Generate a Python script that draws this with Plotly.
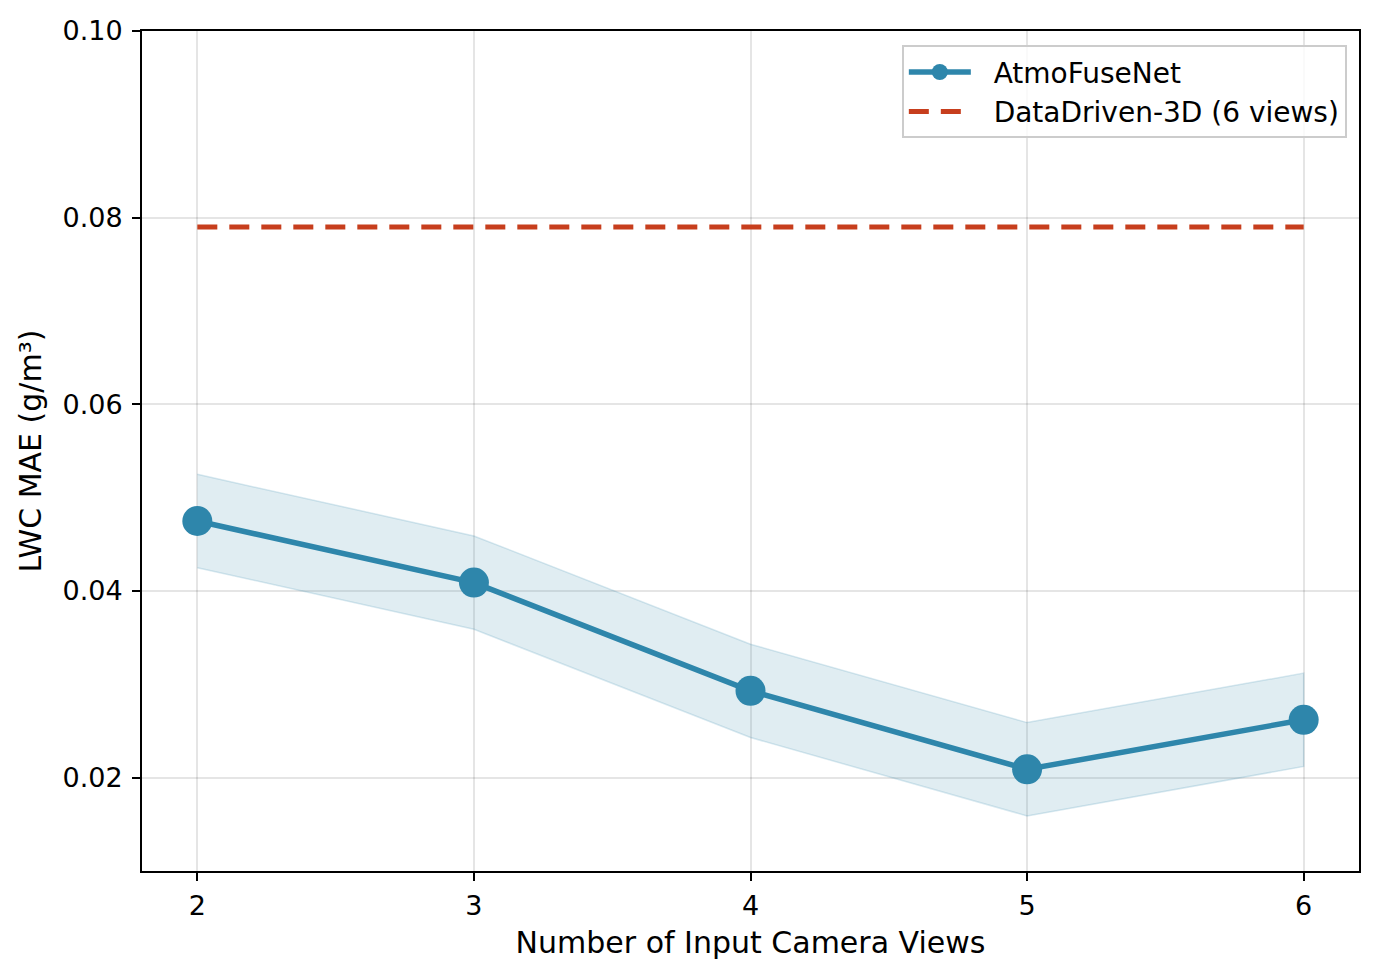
import plotly.graph_objects as go

views = [2, 3, 4, 5, 6]
atmo_mae = [0.0475, 0.0409, 0.0293, 0.0209, 0.0262]
atmo_std = [0.005, 0.005, 0.005, 0.005, 0.005]
baseline_mae = 0.0790
baseline_name = "DataDriven-3D (6 views)"
model_name = "AtmoFuseNet"

blue = "#2E86AB"
red = "#C73E1D"

upper = [m + s for m, s in zip(atmo_mae, atmo_std)]
lower = [m - s for m, s in zip(atmo_mae, atmo_std)]
pad = "\u00a0\u00a0"

fig = go.Figure()
fig.add_trace(go.Scatter(
    x=views + views[::-1], y=upper + lower[::-1], mode="lines",
    fill="toself", fillcolor="rgba(46,134,171,0.15)",
    line=dict(color="rgba(46,134,171,0.18)", width=1.5),
    showlegend=False, hoverinfo="skip"))
fig.add_trace(go.Scatter(
    x=views, y=atmo_mae, mode="lines+markers", name=pad + model_name,
    line=dict(color=blue, width=5.5),
    marker=dict(color=blue, size=30)))
fig.add_trace(go.Scatter(
    x=[views[0], views[-1]], y=[baseline_mae, baseline_mae], mode="lines",
    name=pad + baseline_name,
    line=dict(color=red, width=5, dash="20px,12px")))

font = "DejaVu Sans"
fig.update_layout(
    width=1379, height=979,
    margin=dict(l=142, r=20, t=31, b=108),
    paper_bgcolor="white", plot_bgcolor="white",
    font=dict(family=font, size=27, color="black"),
    legend=dict(x=0.99, y=0.983, xanchor="right", yanchor="top",
                bgcolor="rgba(255,255,255,0.8)", bordercolor="#cccccc",
                borderwidth=2, font=dict(size=28), itemwidth=62,
                tracegroupgap=4),
    xaxis=dict(range=[1.8, 6.2], tickvals=views, ticktext=[str(v) for v in views],
               showgrid=True, gridcolor="rgba(0,0,0,0.1)", gridwidth=1.5,
               showline=True, linecolor="black", linewidth=2, mirror=True,
               ticks="outside", ticklen=8, tickwidth=2, tickcolor="black",
               zeroline=False, ticklabelstandoff=2,
               title=dict(text="Number of Input Camera Views", font=dict(size=30), standoff=12)),
    yaxis=dict(range=[0.01, 0.10], tickvals=[0.02, 0.04, 0.06, 0.08, 0.10],
               ticktext=["0.02", "0.04", "0.06", "0.08", "0.10"],
               showgrid=True, gridcolor="rgba(0,0,0,0.1)", gridwidth=1.5,
               showline=True, linecolor="black", linewidth=2, mirror=True,
               ticks="outside", ticklen=8, tickwidth=2, tickcolor="black",
               zeroline=False, ticklabelstandoff=4,
               title=dict(text="LWC MAE (g/m³)", font=dict(size=30), standoff=12)),
)
fig.write_html("out.html")
